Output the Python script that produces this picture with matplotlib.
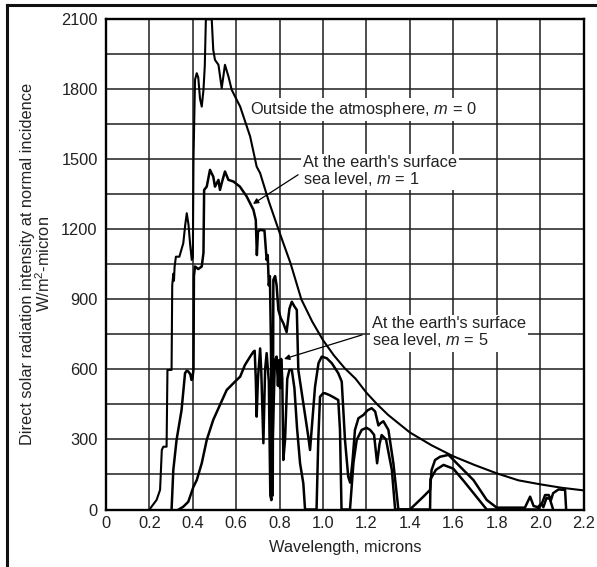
import numpy as np
import matplotlib
matplotlib.use("Agg")
import matplotlib.pyplot as plt
from matplotlib.lines import Line2D

plt.rcParams["font.family"] = ["Liberation Sans", "DejaVu Sans"]
plt.rcParams["mathtext.fontset"] = "custom"
plt.rcParams["mathtext.rm"] = "Liberation Sans"
plt.rcParams["mathtext.it"] = "Liberation Sans:italic"

# Outside the atmosphere, m = 0
wl_m0 = [0.20, 0.233, 0.249, 0.257, 0.264, 0.279, 0.283, 0.302, 0.305, 0.31, 0.313,
         0.316, 0.322, 0.338, 0.356, 0.365, 0.372, 0.38, 0.387, 0.395, 0.40, 0.403,
         0.41, 0.418, 0.425, 0.433, 0.441, 0.449, 0.455, 0.46, 0.487, 0.494, 0.502,
         0.518, 0.533, 0.548, 0.564, 0.579, 0.602, 0.618, 0.664, 0.694, 0.71, 0.75,
         0.80, 0.85, 0.90, 0.95, 1.00, 1.05, 1.10, 1.15, 1.20, 1.25, 1.30, 1.40,
         1.50, 1.60, 1.70, 1.80, 1.90, 2.00, 2.10, 2.20]
irr_m0 = [0, 41, 84, 255, 269, 269, 598, 598, 960, 1010, 980,
          1040, 1083, 1083, 1141, 1220, 1269, 1220, 1141, 1069, 1080, 1500,
          1841, 1869, 1850, 1760, 1726, 1798, 1900, 2100, 2100, 1969, 1926,
          1905, 1805, 1905, 1855, 1798, 1755, 1726, 1598, 1469, 1441, 1320,
          1185, 1055, 900, 805, 725, 660, 605, 560, 500, 450, 405, 330,
          275, 228, 190, 155, 125, 108, 93, 82]

# Sea level, m = 1
wl_m1 = [0.302, 0.31, 0.325, 0.348, 0.364, 0.372, 0.379, 0.388, 0.394, 0.398, 0.403,
         0.405, 0.41, 0.425, 0.441, 0.449, 0.452, 0.464, 0.479, 0.494, 0.502, 0.518,
         0.525, 0.533, 0.548, 0.564, 0.587, 0.617, 0.648, 0.679, 0.69, 0.695, 0.70,
         0.71, 0.73, 0.74, 0.745, 0.75, 0.755, 0.76, 0.763, 0.768, 0.771, 0.779,
         0.786, 0.794, 0.805, 0.817, 0.832, 0.845, 0.856, 0.868, 0.879, 0.886,
         0.909, 0.932, 0.94, 0.963, 0.979, 0.994, 1.017, 1.04, 1.07, 1.086, 1.101,
         1.116, 1.125, 1.135, 1.147, 1.163, 1.186, 1.205, 1.224, 1.24, 1.255, 1.265,
         1.278, 1.301, 1.324, 1.347, 1.40, 1.462, 1.493, 1.50, 1.516, 1.539, 1.578,
         1.616, 1.693, 1.754, 1.80, 1.93, 1.954, 1.97, 1.99, 2.01, 2.023, 2.04,
         2.05, 2.06, 2.085, 2.115, 2.12]
irr_m1 = [0, 169, 298, 426, 584, 595, 591, 580, 555, 560, 600,
          1000, 1041, 1030, 1041, 1100, 1369, 1383, 1455, 1426, 1383, 1412,
          1369, 1398, 1448, 1412, 1405, 1383, 1341, 1284, 1240, 1090, 1190,
          1198, 1195, 1069, 1090, 960, 1000, 700, 60, 60, 984, 1000,
          960, 855, 820, 798, 760, 860, 890, 870, 855, 598,
          455, 312, 255, 526, 627, 655, 648, 627, 584, 548, 298,
          140, 115, 200, 341, 391, 405, 425, 434, 420, 360, 370,
          378, 341, 198, 0, 0, 55, 84, 169, 212, 226, 234,
          198, 126, 41, 8, 8, 55, 15, 10, 30, 62, 62,
          40, 70, 86, 84, 0]

# Sea level, m = 5
wl_m5 = [0.335, 0.356, 0.379, 0.403, 0.418, 0.441, 0.464, 0.494, 0.525, 0.556, 0.571,
         0.602, 0.618, 0.64, 0.664, 0.679, 0.685, 0.69, 0.694, 0.70, 0.71, 0.715,
         0.725, 0.733, 0.74, 0.75, 0.757, 0.762, 0.768, 0.778, 0.786, 0.792, 0.797,
         0.802, 0.807, 0.812, 0.817, 0.825, 0.835, 0.845, 0.856, 0.868, 0.88, 0.894,
         0.909, 0.917, 0.97, 0.978, 0.986, 1.0, 1.009, 1.03, 1.05, 1.07, 1.078,
         1.085, 1.124, 1.14, 1.155, 1.178, 1.20, 1.217, 1.235, 1.249, 1.26, 1.27,
         1.29, 1.317, 1.332, 1.493, 1.495, 1.52, 1.555, 1.60, 1.65, 1.754, 1.99,
         2.005, 2.015, 2.03, 2.045, 2.06]
irr_m5 = [0, 12, 33, 98, 126, 198, 298, 384, 448, 512, 526,
          555, 569, 619, 655, 676, 680, 560, 398, 560, 690, 600,
          284, 600, 670, 550, 60, 40, 300, 640, 655, 530, 640,
          520, 645, 560, 212, 300, 560, 598, 598, 520, 350, 198,
          112, 0, 0, 300, 483, 498, 498, 490, 480, 469, 341,
          0, 0, 200, 298, 341, 350, 341, 320, 198, 280, 319,
          300, 169, 0, 0, 130, 170, 191, 175, 120, 0, 0,
          25, 10, 50, 45, 0]

x_ticks = [0, 0.2, 0.4, 0.6, 0.8, 1.0, 1.2, 1.4, 1.6, 1.8, 2.0, 2.2]
x_labels = ["0", "0.2", "0.4", "0.6", "0.8", "1.0", "1.2", "1.4", "1.6", "1.8", "2.0", "2.2"]
y_ticks = [0, 300, 600, 900, 1200, 1500, 1800, 2100]

fs = 11.8
ink = "#222222"

fig = plt.figure(figsize=(5.97, 5.67), dpi=100)
ax = fig.add_axes([0.1776, 0.1014, 0.7998, 0.8646])

ax.plot(wl_m0, irr_m0, color="black", lw=1.5, zorder=3)
ax.plot(wl_m1, irr_m1, color="black", lw=1.8, zorder=3)
ax.plot(wl_m5, irr_m5, color="black", lw=1.8, zorder=3)

ax.set_xlim(0, 2.2)
ax.set_ylim(0, 2100)
ax.set_xticks(x_ticks)
ax.set_xticklabels(x_labels)
ax.set_yticks(y_ticks)
ax.set_yticks(np.arange(150, 2100, 300), minor=True)
ax.grid(True, which="both", color="#1e1e1e", lw=1.1)
ax.set_axisbelow(True)
ax.tick_params(which="both", length=0, labelsize=fs, colors=ink)
ax.tick_params(axis="y", pad=6)
ax.tick_params(axis="x", pad=5)
for s in ax.spines.values():
    s.set_linewidth(1.7)

ax.set_xlabel("Wavelength, microns", fontsize=fs, labelpad=6, color=ink)
ax.set_ylabel("Direct solar radiation intensity at normal incidence\nW/m$^2$-micron",
              fontsize=fs, labelpad=6, color=ink, linespacing=0.95)

box = dict(facecolor="white", edgecolor="none", pad=1.5)
ax.text(0.664, 1712, "Outside the atmosphere, $m$ = 0", fontsize=fs, va="center",
        ha="left", bbox=box, zorder=4, color=ink)
ax.text(0.908, 1448, "At the earth's surface\nsea level, $m$ = 1", fontsize=fs,
        va="center", ha="left", bbox=box, zorder=4, color=ink, linespacing=1.05)
ax.text(1.224, 758, "At the earth's surface\nsea level, $m$ = 5", fontsize=fs,
        va="center", ha="left", bbox=box, zorder=4, color=ink, linespacing=1.05)

arrow = dict(arrowstyle="-|>", color="black", lw=0.9, mutation_scale=8,
             shrinkA=0, shrinkB=0)
ax.annotate("", xy=(0.677, 1309), xytext=(0.885, 1434), arrowprops=arrow, zorder=5)
ax.annotate("", xy=(0.82, 645), xytext=(1.18, 748), arrowprops=arrow, zorder=5)

# frame around the figure
fig.add_artist(Line2D([0.0117, 0.0117], [0.0, 0.992], color="#111111", lw=2.2))
fig.add_artist(Line2D([0.0117, 1.0], [0.992, 0.992], color="#111111", lw=2.2))

fig.savefig("out.png", dpi=100)
